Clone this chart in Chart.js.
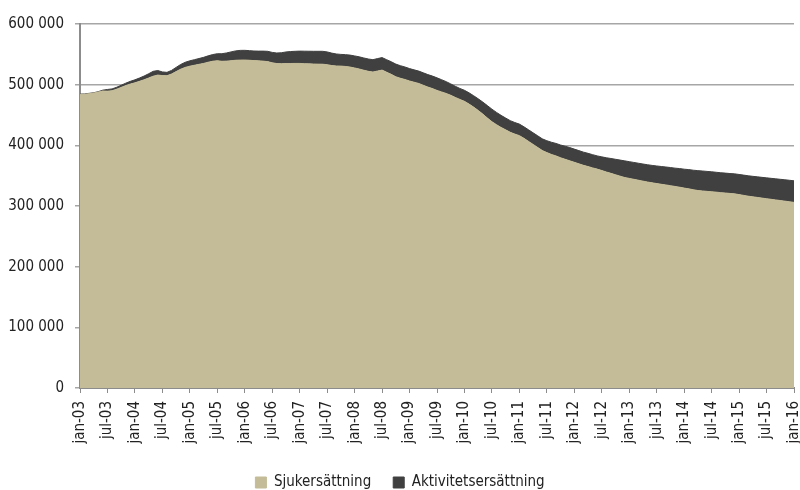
<!DOCTYPE html>
<html lang="sv">
<head>
<meta charset="utf-8">
<script src="https://cdn.jsdelivr.net/npm/chart.js@4"></script>
<style>
  html, body { margin: 0; padding: 0; background: #fff; }
  #wrap { width: 800px; height: 490px; }
</style>
</head>
<body>
<div id="wrap"><canvas id="areaChart"></canvas></div>
<script>
// Månader och år för x-axeln (jan-03 .. jan-16)
const manader = ['jan', 'feb', 'mar', 'apr', 'maj', 'jun', 'jul', 'aug', 'sep', 'okt', 'nov', 'dec'];
const ar = ['03', '04', '05', '06', '07', '08', '09', '10', '11', '12', '13', '14', '15', '16'];

// Sjukersättning, antal per månad
const sjukersattning = [
  483900, 484200, 485200, 486200, 487800, 489500, 489300, 490000, 492500, 495500, 498500, 501000, // 2003
  503000, 505500, 508000, 511000, 514000, 515800, 515000, 514800, 517500, 521500, 525500, 528500, // 2004
  530500, 532000, 533500, 535000, 537000, 538600, 539500, 538500, 538800, 539500, 540200, 540500, // 2005
  540600, 540200, 539700, 539300, 538800, 538000, 536000, 534800, 534600, 534900, 534900, 535000, // 2006
  535000, 534600, 534300, 534000, 533800, 533700, 533000, 531500, 530800, 530600, 530000, 529000, // 2007
  527500, 525800, 523800, 522000, 520800, 522500, 524000, 520500, 517000, 513000, 510500, 508500, // 2008
  506000, 504000, 502000, 499000, 496000, 493500, 490500, 488000, 485500, 482500, 479000, 475700, // 2009
  472500, 468000, 463000, 457500, 451500, 445000, 439000, 434000, 429500, 425500, 421500, 418500, // 2010
  416000, 411500, 406500, 401500, 396500, 391500, 388000, 385000, 382500, 379500, 377000, 374500, // 2011
  372000, 369500, 367000, 365000, 362800, 360800, 358500, 356000, 353800, 351500, 349200, 347000, // 2012
  345500, 344000, 342500, 341000, 339500, 338200, 337000, 335800, 334700, 333500, 332200, 331000, // 2013
  329500, 328300, 326800, 325500, 324800, 324100, 323500, 322800, 322000, 321400, 320700, 320000, // 2014
  318800, 317500, 316200, 315100, 314100, 313000, 312000, 311000, 310000, 309000, 308000, 307000, // 2015
  305900 // jan-16
];

// Aktivitetsersättning, antal per månad
const aktivitetsersattning = [
  500, 500, 500, 500, 700, 1500, 2800, 3000, 3200, 3500, 4000, 4500,                          // 2003
  5000, 5500, 6200, 7000, 8000, 7500, 6000, 5500, 6000, 7000, 7800, 8400,                     // 2004
  8800, 9200, 9600, 10000, 10500, 11000, 11500, 12500, 13500, 14500, 15500, 16000,            // 2005
  16000, 15900, 15800, 16000, 16500, 17000, 17200, 17400, 18000, 19000, 19700, 20000,         // 2006
  20300, 20600, 20800, 21000, 21200, 21300, 21000, 20500, 19800, 19300, 19500, 19700,         // 2007
  19900, 20100, 20200, 20300, 20400, 20500, 20600, 20700, 20800, 20900, 20800, 20600,         // 2008
  20500, 20400, 20400, 20500, 20600, 20700, 20700, 20200, 19500, 18800, 18300, 18100,         // 2009
  18200, 18500, 18800, 19200, 19800, 20500, 20600, 20300, 19900, 19500, 19200, 19100,         // 2010
  19000, 19000, 19100, 19100, 19200, 19200, 19600, 20100, 20600, 21000, 21500, 21800,         // 2011
  21800, 21800, 21800, 21800, 21800, 21800, 22500, 23500, 24500, 25500, 26500, 27400,         // 2012
  27600, 27800, 28000, 28200, 28500, 28700, 29000, 29300, 29600, 29900, 30200, 30700,         // 2013
  31200, 31700, 32200, 32800, 32900, 32900, 32900, 32800, 32800, 32800, 32800, 33000,         // 2014
  33200, 33400, 33600, 33800, 34000, 34200, 34400, 34600, 34800, 35000, 35200, 35400,         // 2015
  35600 // jan-16
];

// Bygg etiketter: jan-03, feb-03, ... jan-16
const labels = [];
ar.forEach((a, i) => {
  manader.forEach(m => {
    if (i < ar.length - 1 || m === 'jan') labels.push(m + '-' + a);
  });
});

const fontFamily = "'DejaVu Sans Condensed', 'Liberation Sans Narrow', sans-serif";
const textColor = '#222222';
const axisColor = '#8c8c8c';

const ctx = document.getElementById('areaChart').getContext('2d');

const areaChart = new Chart(ctx, {
  type: 'line',
  data: {
    labels: labels,
    datasets: [{
      label: 'Sjukersättning',
      data: sjukersattning,
      backgroundColor: '#c4bc98',
      borderColor: '#c4bc98',
      borderWidth: 1,
      pointRadius: 0,
      fill: 'origin',
      tension: 0
    }, {
      label: 'Aktivitetsersättning',
      data: aktivitetsersattning,
      backgroundColor: '#404040',
      borderColor: '#404040',
      borderWidth: 1,
      pointRadius: 0,
      fill: '-1',
      tension: 0
    }]
  },
  options: {
    responsive: true,
    maintainAspectRatio: false,
    animation: false,
    layout: { padding: { top: 24, right: 0, left: 0, bottom: -10 } },
    plugins: {
      tooltip: { enabled: false },
      legend: {
        position: 'bottom',
        labels: {
          font: { family: fontFamily, size: 15 },
          color: textColor,
          boxWidth: 11,
          boxHeight: 11,
          padding: 22
        }
      }
    },
    scales: {
      x: {
        type: 'category',
        offset: false,
        grid: {
          drawOnChartArea: false,
          drawTicks: true,
          tickLength: 5,
          color: c => (c.index % 6 === 0 ? axisColor : 'rgba(0,0,0,0)')
        },
        border: { color: axisColor, width: 2 },
        ticks: {
          autoSkip: false,
          maxRotation: 90,
          minRotation: 90,
          padding: 8,
          color: textColor,
          font: { family: fontFamily, size: 15 },
          callback: function (value, index) {
            return index % 6 === 0 ? this.getLabelForValue(value) : '';
          }
        },
        afterFit: scale => {
          scale.height = 65;
          scale.paddingRight = 6;
        }
      },
      y: {
        stacked: true,
        min: 0,
        max: 600000,
        grid: {
          color: '#a6a6a6',
          lineWidth: 1.5,
          tickLength: 5
        },
        border: { color: axisColor, width: 2 },
        ticks: {
          stepSize: 100000,
          padding: 11,
          color: textColor,
          font: { family: fontFamily, size: 15 },
          callback: v => v === 0 ? '0' : String(v).replace(/\B(?=(\d{3})+(?!\d))/g, ' ')
        },
        afterFit: scale => { scale.width = 80; }
      }
    }
  }
});
</script>
</body>
</html>
